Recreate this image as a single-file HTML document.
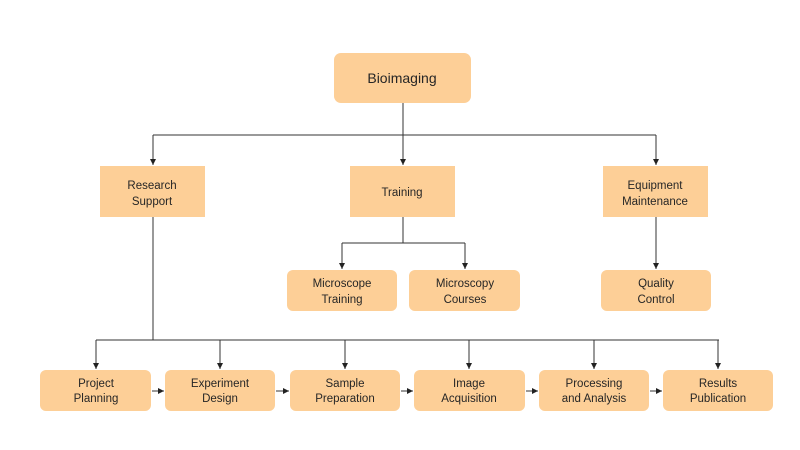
<!DOCTYPE html>
<html><head><meta charset="utf-8"><style>
html,body{margin:0;padding:0;background:#fff;width:800px;height:450px;overflow:hidden}
svg{display:block}
text{font-family:"Liberation Sans",sans-serif;font-size:11.5px;fill:#262626;text-anchor:middle}
</style></head><body>
<svg width="800" height="450" viewBox="0 0 800 450">
<defs><marker id="a" markerWidth="8" markerHeight="8" refX="6" refY="3" orient="auto" markerUnits="userSpaceOnUse"><path d="M0,0 L6,3 L0,6 Z" fill="#222"/></marker></defs>
<g stroke="#333" stroke-width="1" fill="none">
<line x1="403" y1="103" x2="403" y2="135"/>
<line x1="153" y1="135" x2="656" y2="135"/>
<line x1="153" y1="135" x2="153" y2="165" marker-end="url(#a)"/>
<line x1="403" y1="135" x2="403" y2="165" marker-end="url(#a)"/>
<line x1="656" y1="135" x2="656" y2="165" marker-end="url(#a)"/>
<line x1="403" y1="217" x2="403" y2="243"/>
<line x1="342" y1="243" x2="465" y2="243"/>
<line x1="342" y1="243" x2="342" y2="269" marker-end="url(#a)"/>
<line x1="465" y1="243" x2="465" y2="269" marker-end="url(#a)"/>
<line x1="656" y1="217" x2="656" y2="269" marker-end="url(#a)"/>
<line x1="153" y1="217" x2="153" y2="340"/>
<line x1="96" y1="340" x2="719" y2="340"/>
<line x1="96" y1="340" x2="96" y2="369" marker-end="url(#a)"/>
<line x1="220" y1="340" x2="220" y2="369" marker-end="url(#a)"/>
<line x1="345" y1="340" x2="345" y2="369" marker-end="url(#a)"/>
<line x1="469" y1="340" x2="469" y2="369" marker-end="url(#a)"/>
<line x1="594" y1="340" x2="594" y2="369" marker-end="url(#a)"/>
<line x1="718" y1="340" x2="718" y2="369" marker-end="url(#a)"/>
<line x1="152" y1="391" x2="164" y2="391" marker-end="url(#a)"/>
<line x1="276" y1="391" x2="289" y2="391" marker-end="url(#a)"/>
<line x1="401" y1="391" x2="413" y2="391" marker-end="url(#a)"/>
<line x1="526" y1="391" x2="538" y2="391" marker-end="url(#a)"/>
<line x1="650" y1="391" x2="662" y2="391" marker-end="url(#a)"/>
</g>
<g fill="#FDCF97">
<rect x="334" y="53" width="137" height="50" rx="7"/>
<rect x="100" y="166" width="105" height="51"/>
<rect x="350" y="166" width="105" height="51"/>
<rect x="603" y="166" width="105" height="51"/>
<rect x="287" y="270" width="110" height="41" rx="6"/>
<rect x="409" y="270" width="111" height="41" rx="6"/>
<rect x="601" y="270" width="110" height="41" rx="6"/>
<rect x="40" y="370" width="111" height="41" rx="6"/>
<rect x="165" y="370" width="110" height="41" rx="6"/>
<rect x="290" y="370" width="110" height="41" rx="6"/>
<rect x="414" y="370" width="111" height="41" rx="6"/>
<rect x="539" y="370" width="110" height="41" rx="6"/>
<rect x="663" y="370" width="110" height="41" rx="6"/>
</g>
<text x="402" y="83" style="font-size:14px">Bioimaging</text>
<text x="152" y="189">Research</text><text x="152" y="205">Support</text>
<text x="402" y="196">Training</text>
<text x="655" y="189">Equipment</text><text x="655" y="205">Maintenance</text>
<text x="342" y="287">Microscope</text><text x="342" y="303">Training</text>
<text x="465" y="287">Microscopy</text><text x="465" y="303">Courses</text>
<text x="656" y="287">Quality</text><text x="656" y="303">Control</text>
<text x="96" y="387">Project</text><text x="96" y="402">Planning</text>
<text x="220" y="387">Experiment</text><text x="220" y="402">Design</text>
<text x="345" y="387">Sample</text><text x="345" y="402">Preparation</text>
<text x="469" y="387">Image</text><text x="469" y="402">Acquisition</text>
<text x="594" y="387">Processing</text><text x="594" y="402">and Analysis</text>
<text x="718" y="387">Results</text><text x="718" y="402">Publication</text>
</svg>
</body></html>
